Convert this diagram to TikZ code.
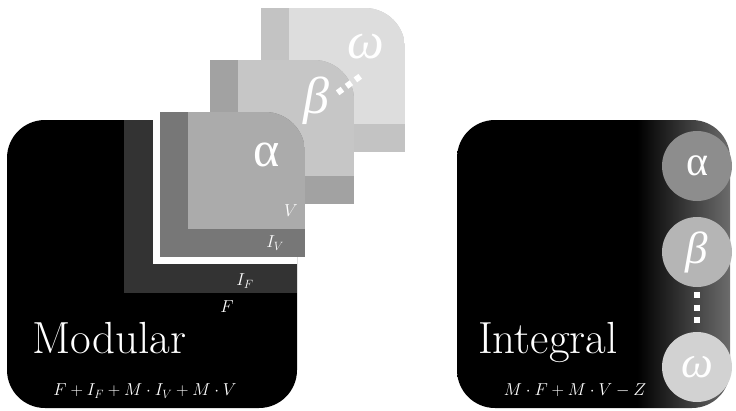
\documentclass[tikz,border=0pt]{standalone}
\usepackage{fontspec}
\newfontfamily\grk{Liberation Serif}
\definecolor{ifcol}{HTML}{333333}
\definecolor{aout}{HTML}{777777}
\definecolor{ain}{HTML}{ABABAB}
\definecolor{bout}{HTML}{A2A2A2}
\definecolor{bin}{HTML}{C6C6C6}
\definecolor{wout}{HTML}{C3C3C3}
\definecolor{win}{HTML}{DDDDDD}
\definecolor{ca}{HTML}{8D8D8D}
\definecolor{cb}{HTML}{B5B5B5}
\definecolor{cw}{HTML}{D2D2D2}
\definecolor{edgegray}{HTML}{6C6C6C}
\pgfdeclarehorizontalshading{intshade}{100bp}{color(0bp)=(black); color(58bp)=(black); color(75bp)=(edgegray); color(100bp)=(edgegray)}
\tikzset{
  lbl/.style={text=white, inner sep=0pt, font=\fontsize{18}{20}\selectfont},
  big/.style={text=white, inner sep=0pt, font=\fontsize{45}{50}\selectfont},
  greekcard/.style={text=white, inner sep=0pt, font=\grk\itshape\fontsize{52}{56}\selectfont},
  greekcirc/.style={circle, minimum size=70pt, inner sep=0pt, text=white, font=\grk\itshape\fontsize{45}{48}\selectfont},
  formula/.style={text=white, inner sep=0pt, font=\fontsize{17.5}{20}\selectfont},
  dots/.style={white, line width=6pt, dash pattern=on 6pt off 5pt},
}
% card with rounded top-right corner: #1 outer, #2 inner, (#3,#4) top-left, (#5,#6) bottom-right
\newcommand{\modcard}[6]{%
  \begin{scope}
    \clip[rounded corners=40pt] (#3-60,#4) rectangle (#5,#6+60);
    \fill[#1] (#3,#4) rectangle (#5,#6);
    \fill[#2] (#3+28,#4) rectangle (#5,#6-28);
  \end{scope}}
\begin{document}
\begin{tikzpicture}[x=1pt,y=-1pt]
\useasboundingbox (0,0) rectangle (736,410);

% --- modular ---
\fill[black, rounded corners=38pt] (7,120) rectangle (297,408);
\fill[ifcol] (124,120) rectangle (297,293);
\fill[white] (153,120) rectangle (297,264);
\modcard{wout}{win}{261}{8}{405}{152}
\modcard{bout}{bin}{210}{60}{354}{204}
\modcard{aout}{ain}{160}{112}{305}{257}

\node[greekcard] (wl) at (366,47) {ω};
\node[greekcard] (bl) at (316,101) {β};
\node[greekcard, font=\grk\fontsize{50}{54}\selectfont] (al) at (267,155) {α};
\coordinate (d1) at (337.6,92.8);
\coordinate (d2) at (360.4,76.2);
\draw[dots] (d1) -- (d2);

\node[lbl] (vl) at (291,211) {$V$};
\node[lbl] (ivl) at (275,243) {$I_V$};
\node[lbl] (ifl) at (245,281) {$I_F$};
\node[lbl] (fl) at (227,307) {$F$};
\node[big, anchor=base west] (mod) at (32,353) {Modular};
\node[formula] (modf) at (145,391) {$F+I_F+M\cdot I_V+M\cdot V$};

% --- integral ---
\shade[shading=intshade, rounded corners=38pt] (457,120) rectangle (730,408);
\node[greekcirc, fill=ca, font=\grk\fontsize{42}{46}\selectfont] (ca) at (697,166) {α};
\node[greekcirc, fill=cb] (cb) at (697,252) {β};
\node[greekcirc, fill=cw] (cw) at (697,367) {ω};
\draw[dots, dash pattern=on 6pt off 6.5pt] ([yshift=-5pt]cb.south) -- ([yshift=5pt]cw.north);
\node[big, anchor=base west] (int) at (478,353) {Integral};
\node[formula] (intf) at (575,390) {$M\cdot F+M\cdot V-Z$};
\end{tikzpicture}
\end{document}
